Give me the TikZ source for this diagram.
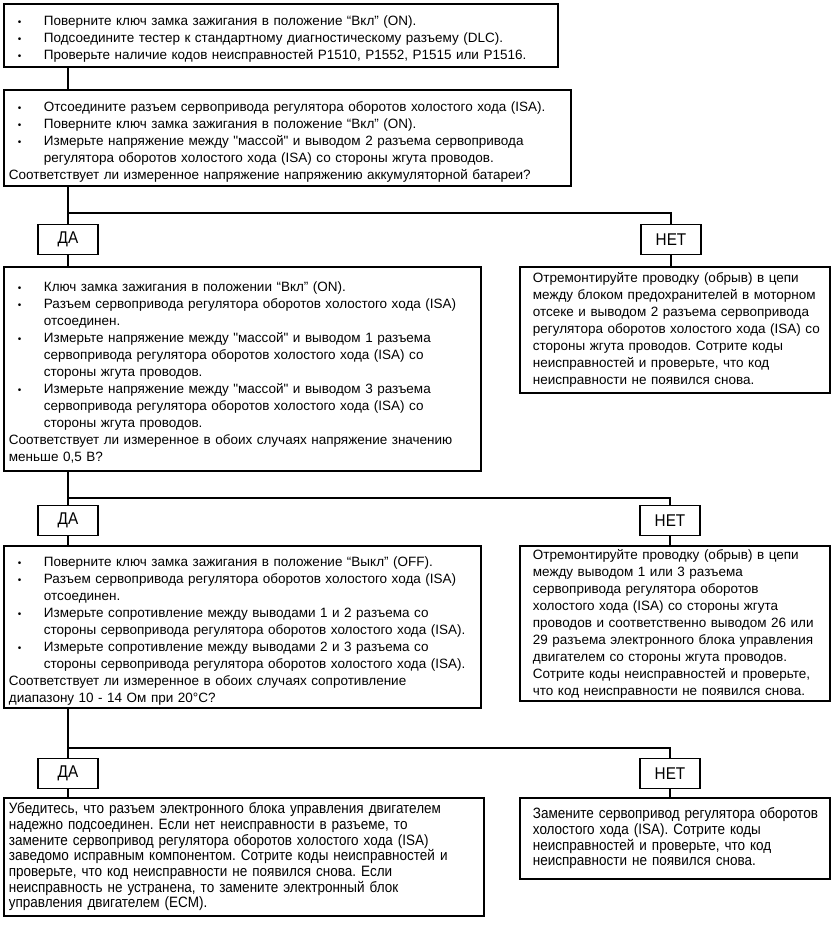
\documentclass[tikz,border=0pt]{standalone}
\usepackage{fontspec}
\setmainfont{Liberation Sans}[Ligatures=TeXOff]
\newfontfamily\uzkij[FakeStretch=0.9]{Liberation Sans}
\usetikzlibrary{positioning}
\frenchspacing

\newcommand{\punkt}{\par\noindent\hangindent=35pt\hangafter=1\makebox[35pt][l]{\hspace*{9pt}{\fontsize{10}{10}\selectfont\textbullet}}}

\begin{document}
\begin{tikzpicture}[x=1pt,y=-1pt]
\useasboundingbox (0,0) rectangle (832,927);
%----------estili---------
\tikzset{
proverka/.style={draw, line width=1.8pt, anchor=north west, align=left,
  inner xsep=5pt, inner ysep=0pt, font=\fontsize{13.5}{17}\selectfont},
remont/.style={proverka, text width=300pt,
  execute at begin node={\setlength{\leftskip}{8pt}}},
itog/.style={draw, line width=1.8pt, anchor=north west, align=left,
  inner xsep=5pt, inner ysep=0pt, font=\uzkij\fontsize{15}{15.7}\selectfont},
otvet/.style={draw, line width=1.8pt, minimum width=60pt, minimum height=30pt,
  inner sep=0pt, font=\uzkij\fontsize{17}{16}\selectfont},
liniya/.style={line width=1.8pt}
}

%------------ proverki ---------------
\node [proverka, text width=544pt, minimum height=63pt] (b1) at (3,3) {%
\punkt Поверните ключ замка зажигания в положение “Вкл” (ON).
\punkt Подсоедините тестер к стандартному диагностическому разъему (DLC).
\punkt Проверьте наличие кодов неисправностей P1510, P1552, P1515 или P1516.};

\node [proverka, text width=557pt, minimum height=96pt] (b2) at (3,89) {%
\punkt Отсоедините разъем сервопривода регулятора оборотов холостого хода (ISA).
\punkt Поверните ключ замка зажигания в положение “Вкл” (ON).
\punkt Измерьте напряжение между "массой" и выводом 2 разъема сервопривода\newline
регулятора оборотов холостого хода (ISA) со стороны жгута проводов.
\par\noindent Соответствует ли измеренное напряжение напряжению аккумуляторной батареи?};

\node [proverka, text width=467pt, minimum height=204pt] (b3) at (3,266) {%
\punkt Ключ замка зажигания в положении “Вкл” (ON).
\punkt Разъем сервопривода регулятора оборотов холостого хода (ISA)\newline
отсоединен.
\punkt Измерьте напряжение между "массой" и выводом 1 разъема\newline
сервопривода регулятора оборотов холостого хода (ISA) со\newline
стороны жгута проводов.
\punkt Измерьте напряжение между "массой" и выводом 3 разъема\newline
сервопривода регулятора оборотов холостого хода (ISA) со\newline
стороны жгута проводов.
\par\noindent Соответствует ли измеренное в обоих случаях напряжение значению\\
меньше 0,5 В?};

\node [proverka, text width=467pt, minimum height=162pt] (b4) at (3,545) {%
\punkt Поверните ключ замка зажигания в положение “Выкл” (OFF).
\punkt Разъем сервопривода регулятора оборотов холостого хода (ISA)\newline
отсоединен.
\punkt Измерьте сопротивление между выводами 1 и 2 разъема со\newline
стороны сервопривода регулятора оборотов холостого хода (ISA).
\punkt Измерьте сопротивление между выводами 2 и 3 разъема со\newline
стороны сервопривода регулятора оборотов холостого хода (ISA).
\par\noindent Соответствует ли измеренное в обоих случаях сопротивление\\
диапазону 10 - 14 Ом при 20°C?};

\node [itog, text width=470pt, minimum height=118pt] (b5) at (3,797) {%
Убедитесь, что разъем электронного блока управления двигателем\\
надежно подсоединен. Если нет неисправности в разъеме, то\\
замените сервопривод регулятора оборотов холостого хода (ISA)\\
заведомо исправным компонентом. Сотрите коды неисправностей и\\
проверьте, что код неисправности не появился снова. Если\\
неисправность не устранена, то замените электронный блок\\
управления двигателем (ECM).};

%------------ remont ---------------
\node [remont, minimum height=126pt] (r1) at (519,266) {%
Отремонтируйте проводку (обрыв) в цепи\\
между блоком предохранителей в моторном\\
отсеке и выводом 2 разъема сервопривода\\
регулятора оборотов холостого хода (ISA) со\\
стороны жгута проводов. Сотрите коды\\
неисправностей и проверьте, что код\\
неисправности не появился снова.};

\node [remont, minimum height=155pt] (r2) at (519,545) {%
Отремонтируйте проводку (обрыв) в цепи\\
между выводом 1 или 3 разъема\\
сервопривода регулятора оборотов\\
холостого хода (ISA) со стороны жгута\\
проводов и соответственно выводом 26 или\\
29 разъема электронного блока управления\\
двигателем со стороны жгута проводов.\\
Сотрите коды неисправностей и проверьте,\\
что код неисправности не появился снова.};

\node [itog, text width=300pt, minimum height=81pt,
  execute at begin node={\setlength{\leftskip}{8pt}}] (r3) at (519,797) {%
Замените сервопривод регулятора оборотов\\
холостого хода (ISA). Сотрите коды\\
неисправностей и проверьте, что код\\
неисправности не появился снова.};

% -----------da / net----------------
\node [otvet] (da1) at (68,239.5) {ДА};
\node [otvet] (net1) at (671,239.5) {НЕТ};
\node [otvet] (da2) at (68,520.5) {ДА};
\node [otvet] (net2) at (670,520.5) {НЕТ};
\node [otvet] (da3) at (68,773.5) {ДА};
\node [otvet] (net3) at (670,773.5) {НЕТ};

\coordinate (j1) at (68,213);
\coordinate (j2) at (68,498);
\coordinate (j3) at (68,748);

%soedineniya
\draw [liniya] (b1.south -| da1) -- (b2.north -| da1);
\draw [liniya] (b2.south -| da1) -- (da1.north);
\draw [liniya] (j1) -| (net1.north);
\draw [liniya] (da1.south) -- (b3.north -| da1);
\draw [liniya] (net1.south) -- (r1.north -| net1);

\draw [liniya] (b3.south -| da2) -- (da2.north);
\draw [liniya] (j2) -| (net2.north);
\draw [liniya] (da2.south) -- (b4.north -| da2);
\draw [liniya] (net2.south) -- (r2.north -| net2);

\draw [liniya] (b4.south -| da3) -- (da3.north);
\draw [liniya] (j3) -| (net3.north);
\draw [liniya] (da3.south) -- (b5.north -| da3);
\draw [liniya] (net3.south) -- (r3.north -| net3);
\end{tikzpicture}
\end{document}
